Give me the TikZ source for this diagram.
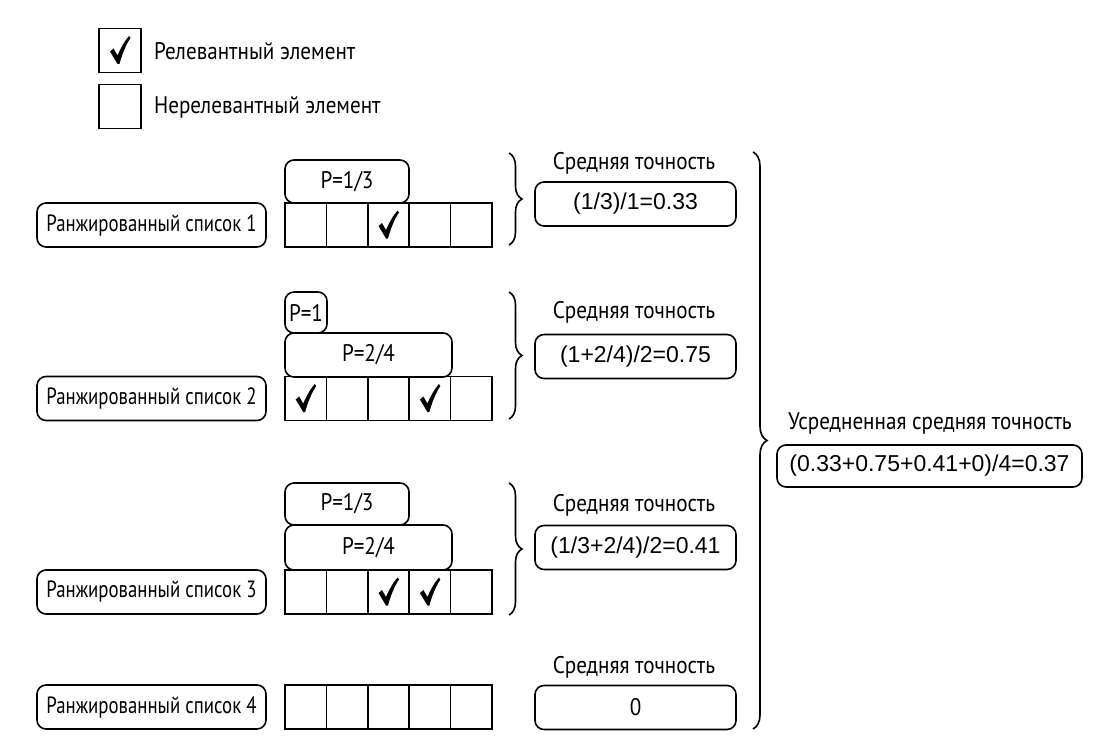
\documentclass[tikz,border=0pt]{standalone}
\usepackage{fontspec}
\setmainfont{PT Sans}[FakeStretch=0.88]
\newfontfamily\lblfont{PT Sans}[FakeStretch=0.8]
\newfontfamily\formfont{Liberation Sans}
\usetikzlibrary{decorations.pathreplacing}
\begin{document}
\begin{tikzpicture}[x=1pt,y=-1pt,line width=1.6pt,
  cell/.style={draw,minimum width=41.4pt,minimum height=44pt,inner sep=0pt,outer sep=0pt},
  legbox/.style={draw,minimum width=42pt,minimum height=44pt,inner sep=0pt,outer sep=0pt},
  rbox/.style={draw,rounded corners=9pt,inner sep=0pt,outer sep=0pt},
  lbl/.style={font=\fontsize{24}{27}\selectfont},
  lst/.style={font=\lblfont\fontsize{23.5}{26}\selectfont},
  frm/.style={font=\formfont\fontsize{23}{26}\selectfont},
  checkmark/.pic={\fill (-10,1) -- (-6.5,-2) -- (-2.5,5) .. controls (1,-3) and (5,-10) .. (9,-14.5)
      -- (10.5,-12.5) .. controls (6,-6) and (2,4) .. (-0.5,13.5) -- (-2.5,13.5) -- cycle;},
  brc/.style={decorate,decoration={brace,amplitude=13pt},line width=1.6pt}]
\path[use as bounding box] (0,0) rectangle (1104,752);

% legend
\node[legbox] (lg1) at (120,50.5) {};
\pic at (lg1) {checkmark};
\node[legbox] (lg2) at (120,106.5) {};
\node[lbl,anchor=west] (lg1t) at (150,51) {Релевантный элемент};
\node[lbl,anchor=west] (lg2t) at (150,107) {Нерелевантный элемент};

% list labels and cells
\foreach \i/\y in {1/225,2/398.5,3/592,4/707}{
  \node[rbox,lst,minimum width=229pt,minimum height=44pt] (L\i) at (151.5,\y) {Ранжированный список \i};
  \foreach \j/\x in {1/305.7,2/347.1,3/388.5,4/429.9,5/471.3}{
    \node[cell] (c\i\j) at (\x,\y) {};
  }
}
% checks
\pic at (c13) {checkmark};
\pic at (c21) {checkmark};
\pic at (c24) {checkmark};
\pic at (c33) {checkmark};
\pic at (c34) {checkmark};

% precision boxes
\node[rbox,lbl,minimum width=124pt,minimum height=43pt] (p11) at (347,181.5) {P=1/3};
\node[rbox,lbl,minimum width=42pt,minimum height=41pt] (p21) at (306,312.5) {P=1};
\node[rbox,lbl,minimum width=167pt,minimum height=44pt] (p22) at (368.5,355) {P=2/4};
\node[rbox,lbl,minimum width=124pt,minimum height=42pt] (p31) at (347,504) {P=1/3};
\node[rbox,lbl,minimum width=167pt,minimum height=45pt] (p32) at (368.5,547.5) {P=2/4};

% braces
\draw[brc] (509,153) -- (509,245);
\draw[brc] (509,292) -- (509,419);
\draw[brc] (509,483) -- (509,615);
\draw[brc,decoration={brace,amplitude=14pt}] (753,152) -- (753,729);

% average precision
\foreach \k/\ty/\by/\txt in {1/163/204/{(1/3)/1=0.33},2/312/356.5/{(1+2/4)/2=0.75},3/505/547.5/{(1/3+2/4)/2=0.41}}{
  \node[lbl] (a\k t) at (634,\ty) {Средняя точность};
  \node[rbox,frm,minimum width=201pt,minimum height=44pt] (a\k) at (635.5,\by) {\txt};
}
\node[lbl] (a4t) at (634,667) {Средняя точность};
\node[rbox,lbl,minimum width=201pt,minimum height=44pt] (a4) at (635.5,707.5) {0};

\node[lbl] (mt) at (930,423) {Усредненная средняя точность};
\node[rbox,frm,minimum width=305pt,minimum height=42pt] (m) at (929.5,466) {(0.33+0.75+0.41+0)/4=0.37};
\end{tikzpicture}
\end{document}
